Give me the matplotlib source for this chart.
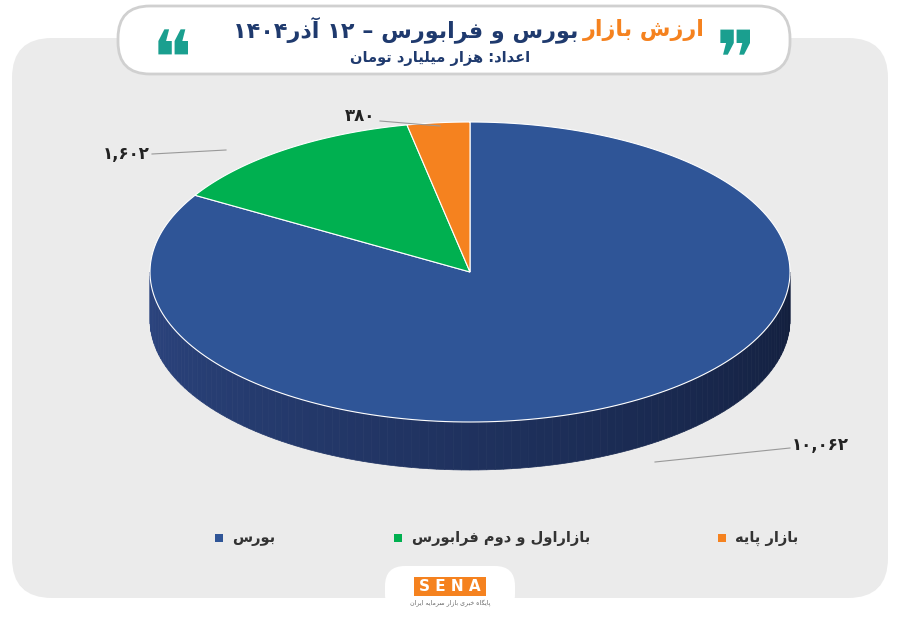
import numpy as np
import matplotlib
matplotlib.use("Agg")
import matplotlib.pyplot as plt
from matplotlib.patches import FancyBboxPatch, Polygon, Rectangle

plt.rcParams['font.family'] = ['DejaVu Sans', 'Noto Sans']

categories = ["بورس", "بازاراول و دوم فرابورس", "بازار پایه"]
values = [10062, 1602, 380]
value_labels = ["۱۰,۰۶۲", "۱,۶۰۲", "۳۸۰"]
colors = ["#2f5597", "#00b050", "#f5821f"]
title_orange = "ارزش بازار"
title_navy = "بورس و فرابورس – ۱۲ آذر۱۴۰۴"
subtitle = "اعداد: هزار میلیارد تومان"

FORMS = {
    'ا': (0xFE8D, 0xFE8E, None, None), 'آ': (0xFE81, 0xFE82, None, None),
    'ب': (0xFE8F, 0xFE90, 0xFE91, 0xFE92), 'پ': (0xFB56, 0xFB57, 0xFB58, 0xFB59),
    'ت': (0xFE95, 0xFE96, 0xFE97, 0xFE98), 'د': (0xFEA9, 0xFEAA, None, None),
    'ذ': (0xFEAB, 0xFEAC, None, None), 'ر': (0xFEAD, 0xFEAE, None, None),
    'ز': (0xFEAF, 0xFEB0, None, None), 'س': (0xFEB1, 0xFEB2, 0xFEB3, 0xFEB4),
    'ش': (0xFEB5, 0xFEB6, 0xFEB7, 0xFEB8), 'ع': (0xFEC9, 0xFECA, 0xFECB, 0xFECC),
    'ف': (0xFED1, 0xFED2, 0xFED3, 0xFED4), 'ل': (0xFEDD, 0xFEDE, 0xFEDF, 0xFEE0),
    'م': (0xFEE1, 0xFEE2, 0xFEE3, 0xFEE4), 'ن': (0xFEE5, 0xFEE6, 0xFEE7, 0xFEE8),
    'ه': (0xFEE9, 0xFEEA, 0xFEEB, 0xFEEC), 'و': (0xFEED, 0xFEEE, None, None),
    'ی': (0xFBFC, 0xFBFD, 0xFBFE, 0xFBFF), 'گ': (0xFB92, 0xFB93, 0xFB94, 0xFB95),
    'خ': (0xFEA5, 0xFEA6, 0xFEA7, 0xFEA8),
}

def joins_left(c):
    return c in FORMS and FORMS[c][2] is not None

def shape(s):
    out = []
    for i, c in enumerate(s):
        if c not in FORMS:
            out.append(c); continue
        prev = s[i-1] if i > 0 else ''
        nxt = s[i+1] if i < len(s)-1 else ''
        jp = joins_left(prev)
        jn = joins_left(c) and nxt in FORMS
        iso, fin, ini, med = FORMS[c]
        if jp and jn: code = med
        elif jp: code = fin
        elif jn: code = ini
        else: code = iso
        out.append(chr(code))
    shaped = ''.join(out)
    digits = set('۰۱۲۳۴۵۶۷۸۹0123456789,')
    tokens, cur, curd = [], '', None
    for ch in shaped:
        d = ch in digits
        if curd is None or d == curd:
            cur += ch
        else:
            tokens.append((cur, curd)); cur = ch
        curd = d
    if cur: tokens.append((cur, curd))
    res = ''
    for t, d in reversed(tokens):
        res += t if d else t[::-1]
    return res

W, H = 900, 623
fig = plt.figure(figsize=(9, 6.23), dpi=100)
ax = fig.add_axes([0, 0, 1, 1])
ax.set_xlim(0, W); ax.set_ylim(H, 0); ax.axis('off')

ax.add_patch(FancyBboxPatch((12, 38), 876, 560, boxstyle="round,pad=0,rounding_size=40",
                            fc="#ebebeb", ec="none"))
ax.add_patch(FancyBboxPatch((118, 6), 672, 68, boxstyle="round,pad=0,rounding_size=32",
                            fc="white", ec="#d0d0d0", lw=2))
ax.text(172, 64, "❝", fontsize=54, color="#1a9f8f", ha='center', va='center')
ax.text(736, 64, "❞", fontsize=54, color="#1a9f8f", ha='center', va='center')

t1 = ax.text(705, 30, shape(title_orange), fontsize=16, fontweight='bold', color="#f5821f",
             ha='right', va='center')
fig.canvas.draw()
left_px = t1.get_window_extent().x0
ax.text(left_px - 5, 30, shape(title_navy), fontsize=16, fontweight='bold', color="#1f3a6e",
        ha='right', va='center')
ax.text(530, 59, shape(subtitle), fontsize=10.5, fontweight='bold', color="#1f3a6e",
        ha='right', va='center')

cx, cy, rx, ry, depth = 470, 272, 320, 150, 48
fr = np.array(values) / sum(values)
bounds = [90.0]
for f in fr:
    bounds.append(bounds[-1] - 360 * f)

def pt(a, dy=0):
    r = np.radians(a)
    return cx + rx * np.cos(r), cy - ry * np.sin(r) + dy

n = 120
angs = np.linspace(180, 360, n + 1)
c0 = np.array([0x2c, 0x45, 0x80]) / 255
c1 = np.array([0x12, 0x1e, 0x3c]) / 255
for i in range(n):
    a0, a1 = angs[i], angs[i + 1]
    p = [pt(a0), pt(a1), pt(a1, depth), pt(a0, depth)]
    t = (a0 - 180) / 180
    col = c0 * (1 - t) + c1 * t
    ax.add_patch(Polygon(p, closed=True, fc=col, ec=col, lw=0.5))

for i in range(3):
    a = np.linspace(bounds[i], bounds[i + 1], 200)
    pts = [(cx, cy)] + [pt(x) for x in a]
    ax.add_patch(Polygon(pts, closed=True, fc=colors[i], ec="white", lw=0.8))

ax.plot([655, 790], [462, 448], color="#999999", lw=0.8)
ax.text(792, 445, value_labels[0], fontsize=12, fontweight='bold', ha='left', va='center', color="#222222")
ax.plot([226, 152], [150, 154], color="#999999", lw=0.8)
ax.text(150, 154, value_labels[1], fontsize=12, fontweight='bold', ha='right', va='center', color="#222222")
ax.plot([440, 380], [126, 121], color="#999999", lw=0.8)
ax.text(375, 116, value_labels[2], fontsize=12, fontweight='bold', ha='right', va='center', color="#222222")

for mx, tx, col, lab in [(219, 232, colors[0], categories[0]),
                         (398, 412, colors[1], categories[1]),
                         (722, 735, colors[2], categories[2])]:
    ax.add_patch(Rectangle((mx - 4, 534), 8, 8, fc=col, ec="none"))
    ax.text(tx, 538, shape(lab), fontsize=10.5, fontweight='bold', ha='left', va='center', color="#333333")

ax.add_patch(FancyBboxPatch((385, 566), 130, 48, boxstyle="round,pad=0,rounding_size=20",
                            fc="white", ec="none"))
ax.add_patch(Rectangle((414, 577), 72, 19, fc="#f5821f", ec="none"))
ax.text(450, 586.5, "S E N A", fontsize=11, fontweight='bold', color="white", ha='center', va='center')
ax.text(450, 603, shape("پایگاه خبری بازار سرمایه ایران"), fontsize=4.5, color="#666666", ha='center', va='center')

fig.savefig("out.png", dpi=100)
